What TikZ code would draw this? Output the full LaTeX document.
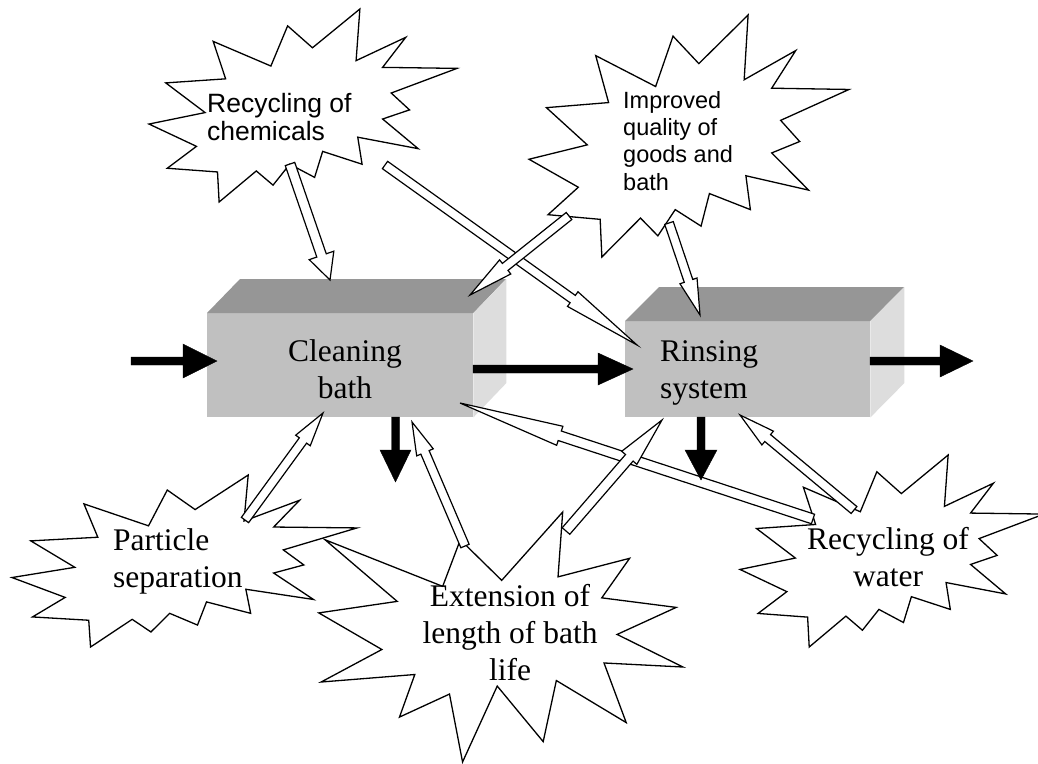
\documentclass[tikz,border=0pt]{standalone}
\usepackage{fontspec}
\setmainfont{Liberation Serif}
\newfontfamily\arial{Liberation Sans}
\usetikzlibrary{calc}

\definecolor{boxfront}{HTML}{C0C0C0}
\definecolor{boxtop}{HTML}{969696}
\definecolor{boxside}{HTML}{DDDDDD}

% block arrow: [style]{tail}{tip}{shaft half width}{head half width}{head length}
\newcommand\blockarrow[6][openarrow]{%
  \coordinate (ba) at ($(#3)!#6!(#2)$);
  \filldraw[#1] ($(#2)!#4!90:(#3)$) -- ($(ba)!#4!90:(#3)$) -- ($(ba)!#5!90:(#3)$)
    -- (#3) -- ($(ba)!#5!-90:(#3)$) -- ($(ba)!#4!-90:(#3)$) -- ($(#2)!#4!-90:(#3)$) -- cycle;
}

\tikzset{
  seal/.style={draw=black, fill=white, line width=1.3pt, line join=miter},
  openarrow/.style={draw=black, fill=white, line width=1.2pt, line join=miter},
  blackarrow/.style={fill=black},
  front/.style={fill=boxfront, inner sep=0pt},
  serif/.style={font=\fontsize{31.5}{37}\selectfont, inner sep=0pt},
  sans/.style={font=\arial\fontsize{26.5}{28}\selectfont, inner sep=0pt},
  explosion/.pic={
    \draw[seal] (114.64,43.40) -- (97.22,18.87) -- (85.48,63.83) -- (45.03,36.26) -- (53.73,78.16)
      -- (11.74,82.70) -- (39.34,115.92) -- (0,128.75) -- (33.29,153.72) -- (12.83,178.24)
      -- (48.04,182.39) -- (49.18,216) -- (75.25,181.25) -- (86.98,197.12) -- (98.71,173.71)
      -- (116.14,188.44) -- (121.78,159.37) -- (149.43,173.71) -- (146.40,143.48) -- (188.78,156.32)
      -- (163.82,123.11) -- (182.70,112.92) -- (169.86,94.04) -- (216,66.46) -- (163.82,65.33)
      -- (180.05,31.72) -- (145.24,57.78) -- (147.89,0) -- cycle;
  },
  bang/.pic={
    \draw[seal] (109.01,59.05) -- (84.58,23.99) -- (74.17,64.25) -- (4.76,23.99) -- (47.32,77.22)
      -- (1.06,87.18) -- (38.28,118.80) -- (2.43,146.89) -- (57.72,140.41) -- (48.68,177.19)
      -- (78.19,157.30) -- (85.90,216) -- (106.37,150.38) -- (133.49,198.40) -- (141.25,145.61)
      -- (182.48,181.95) -- (169.38,130.44) -- (216,133.93) -- (177.10,105.79) -- (211.98,82.42)
      -- (168.06,74.17) -- (184.5,40.0) -- (142.25,56.04) -- (145.0,0) -- cycle;
  }
}

\begin{document}
\begin{tikzpicture}[x=1pt, y=-1pt]
\useasboundingbox (0,0) rectangle (1038,763);

% the two tanks
\node[front, minimum width=266pt, minimum height=104pt, anchor=north west] (clean) at (207,313) {};
\fill[boxtop] (clean.north west) -- ++(33,-34) -- ++(266,0) -- (clean.north east) -- cycle;
\fill[boxside] (clean.north east) -- ++(33,-34) -- ++(0,104) -- (clean.south east) -- cycle;

\node[front, minimum width=245pt, minimum height=96pt, anchor=north west] (rinse) at (625,321) {};
\fill[boxtop] (rinse.north west) -- ++(34,-34) -- ++(245,0) -- (rinse.north east) -- cycle;
\fill[boxside] (rinse.north east) -- ++(34,-34) -- ++(0,96) -- (rinse.south east) -- cycle;

% explosions
\pic[shift={(317,512)}, xscale=366/216, yscale=250/216] {bang};
\pic[shift={(12,475)}, xscale=345/216, yscale=172/216] {explosion};
\pic[shift={(149,9)}, xscale=308/216, yscale=193/216] {explosion};
\pic[shift={(529,15)}, xscale=320/216, yscale=242/216] {explosion};
\pic[shift={(740,455)}, xscale=304/216, yscale=192/216] {explosion};

% connector ends
\coordinate (chem1) at (290,164);  \coordinate (clean1) at (330,280);
\coordinate (chem2) at (385,165);  \coordinate (rinse1) at (637,345);
\coordinate (qual1) at (569,216);  \coordinate (clean2) at (470,295);
\coordinate (qual2) at (669,223);  \coordinate (rinse2) at (700,315);
\coordinate (part1) at (245,520);  \coordinate (clean3) at (323,413);
\coordinate (ext1) at (465,546);   \coordinate (clean4) at (412,422);
\coordinate (ext2) at (566,531);   \coordinate (rinse3) at (662,420);
\coordinate (water1) at (813,519); \coordinate (clean5) at (460,403);
\coordinate (water2) at (854,510); \coordinate (rinse4) at (740,415);

\blockarrow{water1}{clean5}{5pt}{10pt}{105pt}
\blockarrow{chem2}{rinse1}{4.5pt}{9pt}{79pt}
\blockarrow{qual1}{clean2}{4.5pt}{9pt}{45pt}
\blockarrow{chem1}{clean1}{5pt}{13pt}{26pt}
\blockarrow{qual2}{rinse2}{4.5pt}{9pt}{36pt}
\blockarrow{part1}{clean3}{4.5pt}{9pt}{34pt}
\blockarrow{ext1}{clean4}{4.5pt}{9pt}{33pt}
\blockarrow{ext2}{rinse3}{5pt}{10pt}{50pt}
\blockarrow{water2}{rinse4}{4.5pt}{9pt}{36pt}

% flow of goods
\coordinate (in0) at (131,361);   \coordinate (in1) at (217,361);
\coordinate (mid0) at (473,369);  \coordinate (mid1) at (633,369);
\coordinate (out0) at (870,361);  \coordinate (out1) at (973,361);
\coordinate (drop0) at (395.5,417); \coordinate (drop1) at (395.5,482);
\coordinate (drip0) at (701,417);   \coordinate (drip1) at (701,480);
\blockarrow[blackarrow]{in0}{in1}{4pt}{17pt}{34pt}
\blockarrow[blackarrow]{mid0}{mid1}{4pt}{16pt}{35pt}
\blockarrow[blackarrow]{out0}{out1}{4pt}{16pt}{33pt}
\blockarrow[blackarrow]{drop0}{drop1}{4pt}{15.5pt}{32pt}
\blockarrow[blackarrow]{drip0}{drip1}{4pt}{16pt}{30pt}

% labels (base = last line)
\node[serif, align=center, anchor=base] (cleantext) at (345,398) {Cleaning\\bath};
\node[serif, align=left, anchor=base west] (rinsetext) at (660,398) {Rinsing\\system};
\node[sans, align=left, anchor=base west] (chemtext) at (207,140) {Recycling of\\chemicals};
\node[sans, font=\arial\fontsize{23.5}{27.3}\selectfont, align=left, anchor=base west] (qualtext) at (623,190) {Improved\\quality of\\goods and\\bath};
\node[serif, align=left, anchor=base west] (parttext) at (113,587) {Particle\\separation};
\node[serif, align=center, anchor=base] (exttext) at (510,680) {Extension of\\length of bath\\life};
\node[serif, align=center, anchor=base] (watertext) at (888,586) {Recycling of\\water};
\end{tikzpicture}
\end{document}
